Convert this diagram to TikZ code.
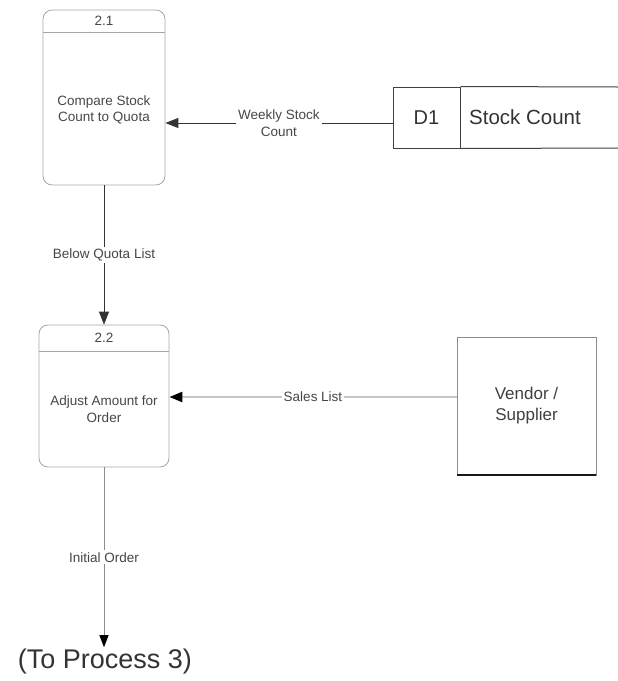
\documentclass[tikz,border=0pt]{standalone}
\usepackage{fontspec}
\setmainfont{Liberation Sans}
\usetikzlibrary{arrows.meta}
\begin{document}
\begin{tikzpicture}[x=1pt,y=-1pt,
  proc/.style={draw=black!35, line width=0.8pt, rounded corners=9pt, inner sep=0pt},
  hdr/.style={draw=black!35, line width=0.8pt},
  txt/.style={font=\fontsize{13.5}{16.5}\selectfont, text=black!72, align=center, inner sep=1pt},
  lbl/.style={font=\fontsize{13.5}{16.5}\selectfont, text=black!72, align=center, fill=white, inner sep=2pt},
  flow/.style={draw=black!80, line width=0.9pt, -{Triangle[length=13pt,width=10pt]}},
  flowlight/.style={draw=black!22, line width=2.5pt, -{Triangle[length=13pt,width=10pt,fill=black,color=black]}},
  flowgray/.style={draw=black!45, line width=1pt, -{Triangle[length=12pt,width=9pt,fill=black,color=black]}},
  store/.style={draw=black!75, line width=1pt}
]
\useasboundingbox (0,0) rectangle (618,681);
% Process 2.1
\node[proc, minimum width=122pt, minimum height=175pt] (p21) at (104,97.5) {};
\draw[hdr] ([yshift=-23pt]p21.north west) -- ([yshift=-23pt]p21.north east);
\node[txt] (p21id) at (104,21) {2.1};
\node[txt] (p21t) at (104,110) {Compare Stock\\Count to Quota};
% Process 2.2
\node[proc, minimum width=130pt, minimum height=142pt] (p22) at (104,396) {};
\draw[hdr] ([yshift=-27pt]p22.north west) -- ([yshift=-27pt]p22.north east);
\node[txt] (p22id) at (104,338) {2.2};
\node[txt] (p22t) at (104,409) {Adjust Amount for\\Order};
% Data store D1
\node[store, minimum width=67pt, minimum height=61pt, inner sep=0pt,
      font=\fontsize{20}{24}\selectfont, text=black!80] (d1) at (426.5,117.5) {D1};
\coordinate (d1te) at (618,87);
\coordinate (d1be) at (618,148);
\draw[store] (d1.north east) -- (d1te);
\draw[store] (d1.south east) -- (d1be);
\node[font=\fontsize{20.5}{24}\selectfont, text=black!80] (d1name) at (525,117) {Stock Count};
% Vendor / Supplier
\node[draw=black!45, line width=0.8pt, minimum width=139pt, minimum height=138pt, inner sep=0pt,
      align=center, font=\fontsize{17}{21}\selectfont, text=black!75] (ven) at (526.5,406) {Vendor /\\Supplier};
\draw[black!90, line width=2pt] (ven.south west) -- (ven.south east);
% To Process 3
\node[font=\fontsize{27}{32}\selectfont, text=black!80, inner sep=2pt] (tp3) at (105,662) {(To Process 3)};
% Anchor points of flows
\coordinate (wsrc) at ([yshift=-5.5pt]d1.west);
\coordinate (ssrc) at ([yshift=9pt]ven.west);
% Flows
\draw[flow] (wsrc) -- (p21.east |- wsrc)
  node[lbl, midway] (lw) {Weekly Stock\\Count};
\draw[flow] (p21.south) -- (p21.south |- p22.north)
  node[lbl, midway] (lb) {Below Quota List};
\draw[flowlight] (ssrc) -- (p22.east |- ssrc)
  node[lbl, midway] (ls) {Sales List};
\draw[flowgray] (p22.south) -- (p22.south |- tp3.north)
  node[lbl, midway] (li) {Initial Order};
\end{tikzpicture}
\end{document}
